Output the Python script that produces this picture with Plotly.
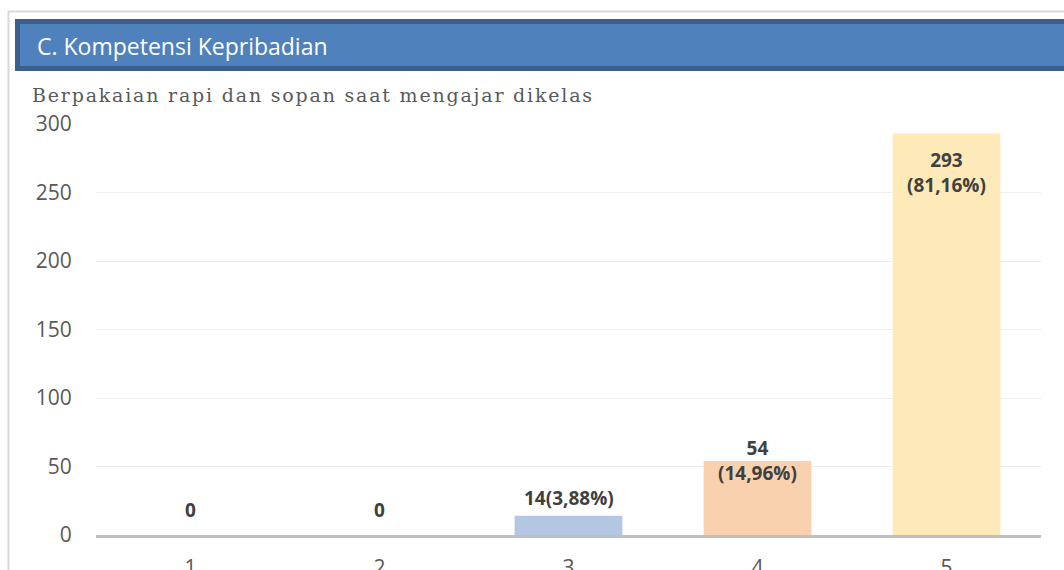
import plotly.graph_objects as go

# Data
categories = ["1", "2", "3", "4", "5"]
counts = [0, 0, 14, 54, 293]
percents = ["", "", "3,88%", "14,96%", "81,16%"]
bar_colors = ["#B4C7E7", "#F8CBAD", "#B4C7E2", "#F9D1AF", "#FEE9B8"]
y_ticks = [0, 50, 100, 150, 200, 250, 300]

W, H = 1064, 570
L, R, T, B = 96, 1041, 124, 535  # plot area in pixels


def px_x(p):
    return (p - L) / (R - L)


def px_y(p):
    return (B - p) / (B - T)


fig = go.Figure()
fig.add_trace(go.Bar(
    x=categories,
    y=counts,
    marker=dict(color=bar_colors, line=dict(width=0)),
    width=0.57,
    hoverinfo="skip",
))

label_font = dict(family="Open Sans", size=19, color="#404040", weight="bold")

# value labels
for i, (v, p) in enumerate(zip(counts, percents)):
    if v == 0:
        fig.add_annotation(x=i, y=v, text=str(v), showarrow=False,
                           yanchor="bottom", yshift=10, font=label_font)
    elif v < 30:
        fig.add_annotation(x=i, y=v, text=f"{v}({p})", showarrow=False,
                           yanchor="bottom", yshift=3, font=label_font)
    elif v < 100:
        fig.add_annotation(x=i, y=v, text=f"{v}<br>({p})", showarrow=False,
                           yanchor="middle", yshift=1, font=label_font)
    else:
        fig.add_annotation(x=i, y=v, text=f"{v}<br>({p})", showarrow=False,
                           yanchor="middle", yshift=-39, font=label_font)

# outer frame lines
fig.add_shape(type="line", xref="paper", yref="paper",
              x0=px_x(8), x1=px_x(1064), y0=px_y(11.5), y1=px_y(11.5),
              line=dict(color="#D9D9D9", width=2))
fig.add_shape(type="line", xref="paper", yref="paper",
              x0=px_x(8.5), x1=px_x(8.5), y0=px_y(11), y1=px_y(575),
              line=dict(color="#D9D9D9", width=2))

# section banner
fig.add_shape(type="rect", xref="paper", yref="paper",
              x0=px_x(17.5), x1=px_x(1075), y0=px_y(21.5), y1=px_y(68.5),
              fillcolor="#4F81BD", line=dict(color="#3B5E8D", width=5))
fig.add_annotation(xref="paper", yref="paper", x=px_x(35), y=px_y(46),
                   xanchor="left", yanchor="middle", showarrow=False,
                   text="C. Kompetensi Kepribadian",
                   font=dict(family="Open Sans", size=23, color="#FFFFFF"))

# question subtitle
fig.add_annotation(xref="paper", yref="paper", x=px_x(30), y=px_y(95),
                   xanchor="left", yanchor="middle", showarrow=False,
                   text='<span style="letter-spacing:1.8px">'
                        'Berpakaian rapi dan sopan saat mengajar dikelas</span>',
                   font=dict(family="DejaVu Serif", size=19, color="#595959"))

fig.update_layout(
    width=W, height=H,
    margin=dict(l=L, r=W - R, t=T, b=H - B),
    paper_bgcolor="white",
    plot_bgcolor="white",
    showlegend=False,
    xaxis=dict(
        type="category",
        range=[-0.5, 4.5],
        automargin=False,
        showgrid=False,
        showline=True, linecolor="#BFBFBF", linewidth=3,
        ticks="outside", ticklen=12, tickcolor="rgba(0,0,0,0)",
        tickfont=dict(family="Open Sans", size=21, color="#595959"),
        zeroline=False,
    ),
    yaxis=dict(
        range=[0, 300],
        tickvals=y_ticks,
        automargin=False,
        showgrid=True, gridcolor="#EEEEEE", gridwidth=1,
        zeroline=False,
        showline=False,
        ticks="outside", ticklen=19, tickcolor="rgba(0,0,0,0)",
        tickfont=dict(family="Open Sans", size=21, color="#595959"),
    ),
)

fig.write_html("out.html")
